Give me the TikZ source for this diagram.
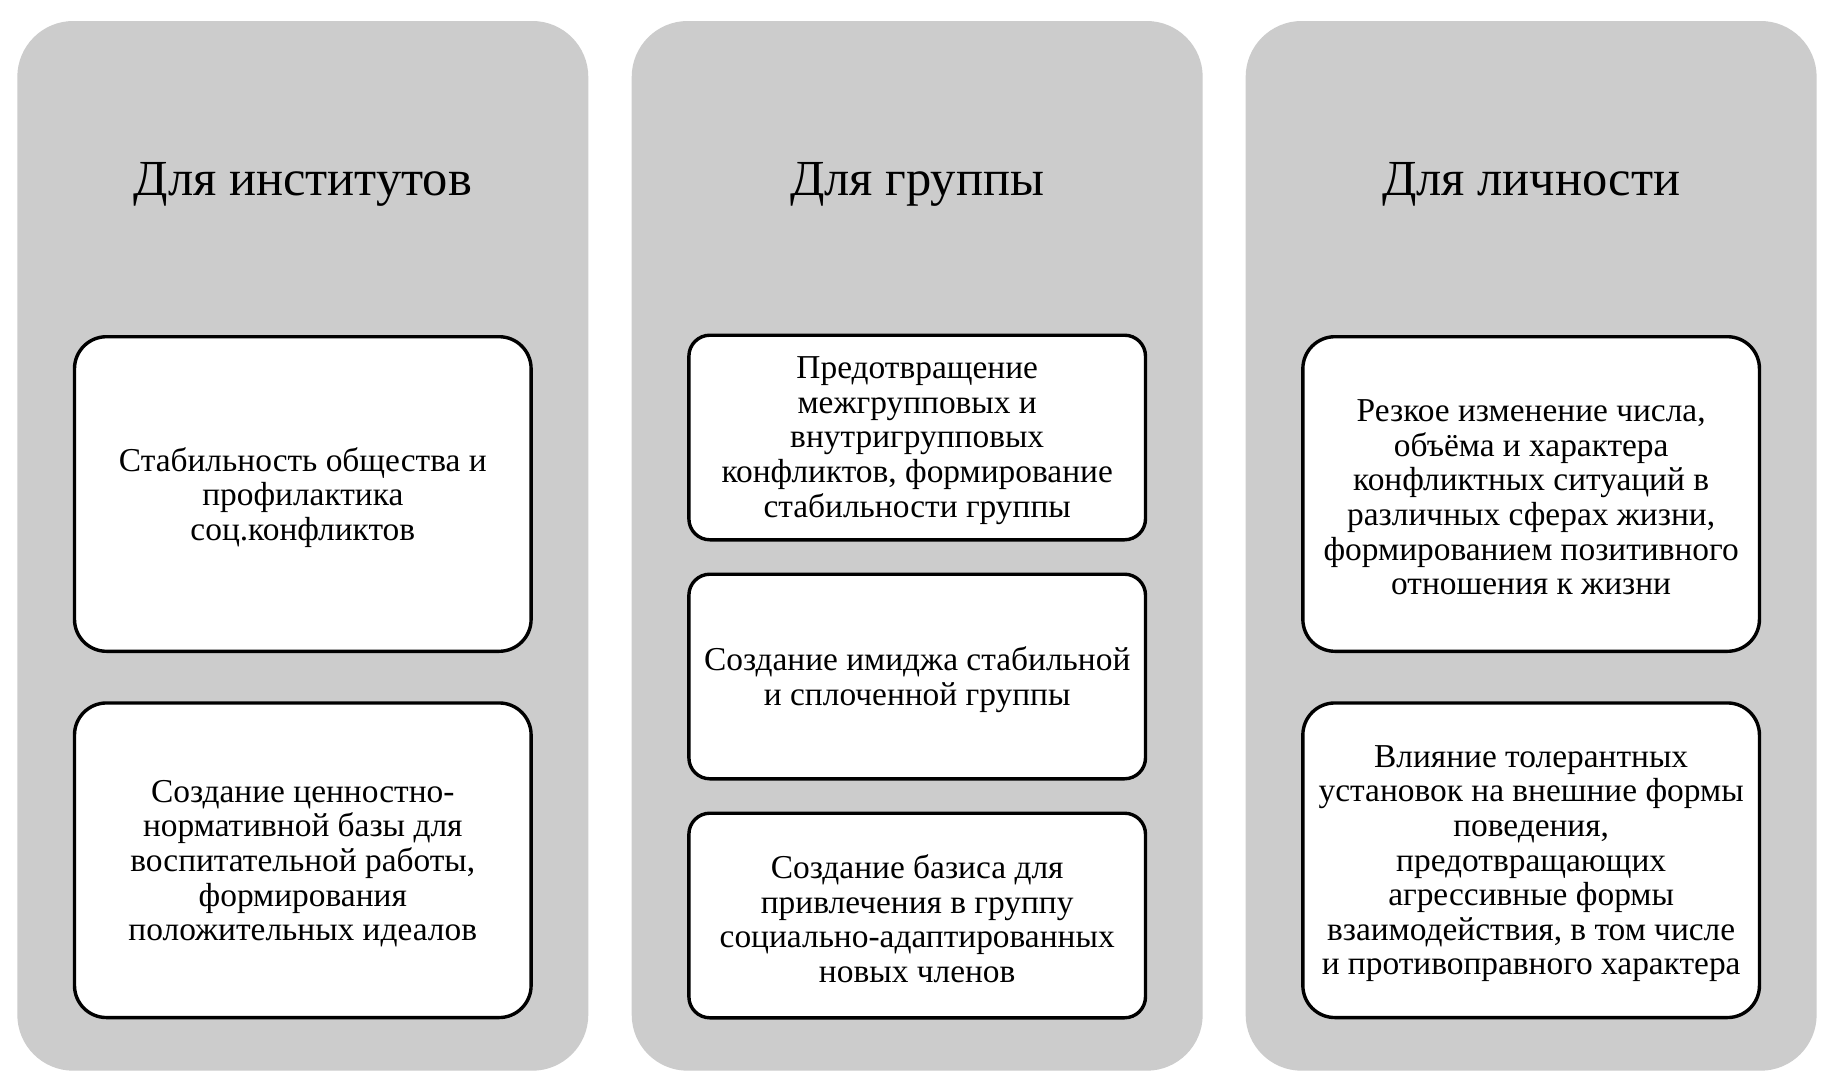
\documentclass[tikz,border=0pt]{standalone}
\usepackage{fontspec}
\setmainfont{Liberation Serif}
\definecolor{panelgray}{RGB}{204,204,204}
\begin{document}
\begin{tikzpicture}[x=1pt,y=-1pt,
  panel/.style={fill=panelgray, rounded corners=56pt, minimum width=571pt, minimum height=1049.7pt, inner sep=0pt},
  title/.style={font=\fontsize{50.5}{58}\selectfont, inner sep=0pt},
  bigbox/.style={draw=black, line width=3.4pt, fill=white, rounded corners=32pt, minimum width=456.6pt, minimum height=314.6pt, inner sep=0pt},
  smallbox/.style={draw=black, line width=3.4pt, fill=white, rounded corners=21pt, minimum width=456.6pt, minimum height=204.6pt, inner sep=0pt},
  boxtext/.style={align=center, inner sep=0pt, font=\fontsize{33.4}{34.6}\selectfont}]
\fill[white] (0,0) rectangle (1837,1092);
\useasboundingbox (0,0) rectangle (1837,1092);
% panels
\node[panel] (p1) at (302.8,545.85) {};
\node[panel] (p2) at (917.2,545.85) {};
\node[panel] (p3) at (1531.15,545.85) {};
% titles
\node[title] (t1) at (302.8,184) {Для институтов};
\node[title] (t2) at (917.2,184) {Для группы};
\node[title] (t3) at (1531.15,184) {Для личности};
% panel 1
\node[bigbox] (a1) at (302.8,494) {};
\node[boxtext] (a1t) at ([yshift=-3.5pt]a1.center) {Стабильность общества и\\профилактика\\соц.конфликтов};
\node[bigbox] (a2) at (302.8,860.25) {};
\node[boxtext] (a2t) at ([yshift=-3.5pt]a2.center) {Создание ценностно-\\нормативной базы для\\воспитательной работы,\\формирования\\положительных идеалов};
% panel 2
\node[smallbox] (b1) at (917.2,437.5) {};
\node[boxtext] (b1t) at ([yshift=-3pt]b1.center) {Предотвращение\\межгрупповых и\\внутригрупповых\\конфликтов, формирование\\стабильности группы};
\node[smallbox] (b2) at (917.2,676.5) {};
\node[boxtext] (b2t) at ([yshift=-3pt]b2.center) {Создание имиджа стабильной\\и сплоченной группы};
\node[smallbox] (b3) at (917.2,915.5) {};
\node[boxtext] (b3t) at ([yshift=-3pt]b3.center) {Создание базиса для\\привлечения в группу\\социально-адаптированных\\новых членов};
% panel 3
\node[bigbox] (c1) at (1531.15,494) {};
\node[boxtext] (c1t) at ([yshift=-3.5pt]c1.center) {Резкое изменение числа,\\объёма и характера\\конфликтных ситуаций в\\различных сферах жизни,\\формированием позитивного\\отношения к жизни};
\node[bigbox] (c2) at (1531.15,860.25) {};
\node[boxtext] (c2t) at ([yshift=-3.5pt]c2.center) {Влияние толерантных\\установок на внешние формы\\поведения,\\предотвращающих\\агрессивные формы\\взаимодействия, в том числе\\и противоправного характера};
\end{tikzpicture}
\end{document}
